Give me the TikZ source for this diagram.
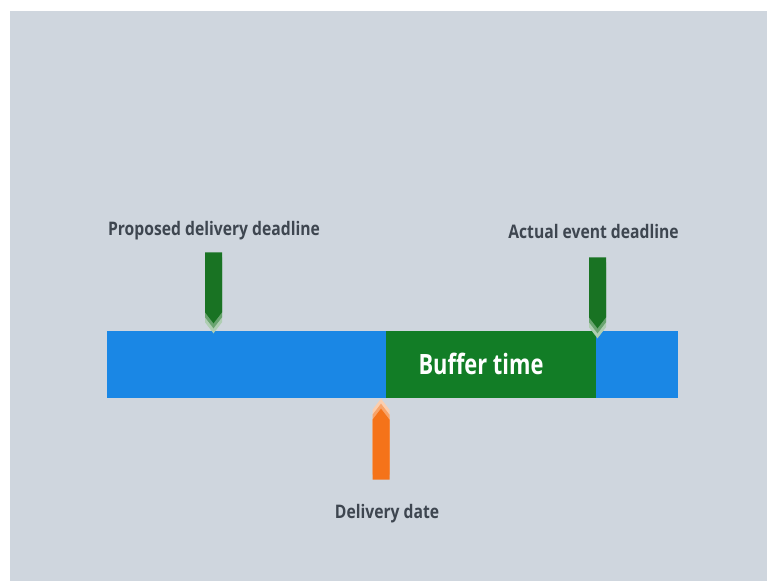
\documentclass[tikz,border=0pt]{standalone}
\usepackage{fontspec}
\setmainfont{Open Sans}[FakeStretch=0.84]
\newfontfamily\bufferfont{Open Sans}[FakeStretch=0.78]
\usepackage{tikz}
\usetikzlibrary{shapes.symbols, positioning}
\definecolor{bggray}{RGB}{207,214,222}
\definecolor{barblue}{RGB}{26,135,229}
\definecolor{bufgreen}{RGB}{18,125,38}
\definecolor{markgreen}{RGB}{25,115,35}
\definecolor{markorange}{RGB}{245,115,25}
\definecolor{labelgray}{RGB}{62,70,80}
\tikzstyle{timebar} = [rectangle, inner sep=0pt, minimum height=50.25pt, anchor=north west]
\tikzstyle{marker} = [signal, inner sep=0pt, minimum width=12.75pt, minimum height=45pt,
signal pointer angle=75, draw=none]
\tikzstyle{caption} = [font=\bfseries\fontsize{14}{16}\selectfont, text=labelgray, inner sep=0pt, anchor=base]

\begin{document}
\begin{tikzpicture}[x=0.75pt, y=-0.75pt]

\fill[white] (0,0) rectangle (767,581);
\fill[bggray] (10,11) rectangle (767,581);

% time line
\node(bar)[timebar, fill=barblue, minimum width=428.25pt] at (107,331) {};
\node(buffer)[timebar, fill=bufgreen, minimum width=157.5pt] at (386,331) {};
\node(bufText)[anchor=base, text=white, font=\bufferfont\bfseries\fontsize{21}{24}\selectfont, inner sep=0pt]
at (481,374) {Buffer time};

% markers
\node(proposedC)[marker, signal to=south, fill=markgreen!35, anchor=north] at (213.5,262) {};
\node(proposedB)[marker, signal to=south, fill=markgreen!65, anchor=north] at (213.5,257) {};
\node(proposed)[marker, signal to=south, fill=markgreen, anchor=north] at (213.5,252) {};

\node(actualC)[marker, signal to=south, fill=markgreen!35, anchor=north] at (597.5,267) {};
\node(actualB)[marker, signal to=south, fill=markgreen!65, anchor=north] at (597.5,262) {};
\node(actual)[marker, signal to=south, fill=markgreen, anchor=north] at (597.5,257) {};

\node(deliveryC)[marker, signal to=north, fill=markorange!35, anchor=south] at (381,470) {};
\node(deliveryB)[marker, signal to=north, fill=markorange!65, anchor=south] at (381,475) {};
\node(delivery)[marker, signal to=north, fill=markorange, anchor=south] at (381,480) {};

% captions
\node(proposedText)[caption] at (214,235) {Proposed delivery deadline};
\node(actualText)[caption] at (593.5,238) {Actual event deadline};
\node(deliveryText)[caption] at (387,518) {Delivery date};

\end{tikzpicture}
\end{document}
